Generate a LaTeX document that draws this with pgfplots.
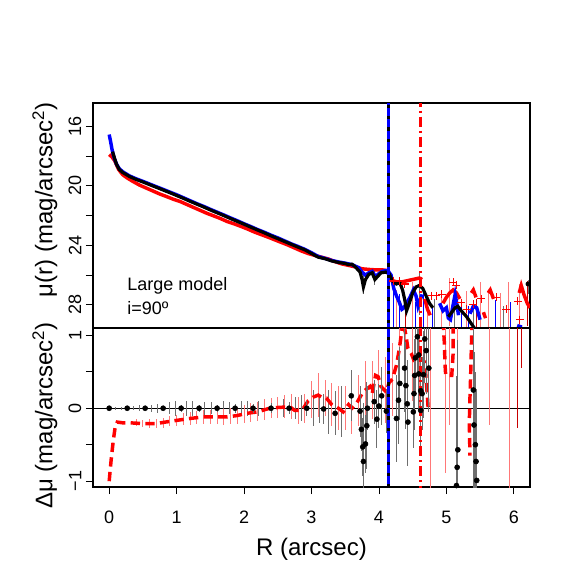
\documentclass[border=0pt]{standalone}
\usepackage{fontspec}
\setmainfont{Liberation Sans}
\usepackage{pgfplots}
\pgfplotsset{compat=1.18}
\definecolor{ebred}{RGB}{255,120,120}
\definecolor{ebgray}{RGB}{110,110,110}
\definecolor{dred}{RGB}{200,0,0}
\pgfplotsset{
  panel/.style={scale only axis, width=327.75pt, xmin=-0.24, xmax=6.24,
    axis line style={line width=1pt}, tick align=outside, major tick length=5.25pt,
    tick style={line width=0.6pt, black}, tick pos=left,
    /pgf/number format/assume math mode=true,
    tick label style={font=\fontsize{13.5}{16}\selectfont},
    label style={font=\fontsize{18}{21}\selectfont},
    yticklabel style={rotate=90, anchor=south},
    xticklabel style={yshift=-9pt},
    unbounded coords=jump},
  ebar/.style={only marks, mark=*, mark options={opacity=0, draw opacity=0, fill opacity=0}, forget plot,
    error bars/.cd, y dir=both, y explicit,
    error mark=none, error bar style={draw=#1, line width=0.7pt, solid, opacity=1}},
}
\begin{document}
\begin{tikzpicture}
\useasboundingbox (-69.75pt,-66.75pt) rectangle (362.25pt,365.25pt);

% ---------------- top panel: surface brightness profiles
\begin{axis}[panel, at={(0,119.25pt)}, anchor=south west, height=168.75pt,
  ymin=14.43, ymax=29.56, y dir=reverse, xtick=\empty,
  ytick={16,18,...,28}, yticklabels={16,,20,,24,,28},
  ylabel={μ(r) (mag/arcsec\textsuperscript{2})},
  ylabel style={at={(axis description cs:-0.11,0.57)}, anchor=center}]

% error bars in the outer part
\addplot[ebar=blue] coordinates {(4.21,28.0) +- (0,1.5) (4.3,28.5) +- (0,1.2) (4.54,28.8) +- (0,1.0)
  (4.66,28.4) +- (0,1.3) (4.8,29.0) +- (0,0.8) (5.22,28.6) +- (0,1.0) (5.33,29.0) +- (0,0.9)
  (5.73,28.7) +- (0,1.0) (5.95,28.8) +- (0,1.0)};
\addplot[ebar=ebred] coordinates {(4.26,28.5) +- (0,1.5) (4.5,28.0) +- (0,1.5) (4.72,28.7) +- (0,1.0)
  (4.92,28.5) +- (0,1.2) (5.05,27.8) +- (0,1.6) (5.3,28.3) +- (0,1.2) (5.5,28.0) +- (0,1.5)
  (5.62,28.3) +- (0,1.3) (5.8,28.4) +- (0,1.2) (5.92,28.0) +- (0,1.5) (6.08,28.0) +- (0,1.4)};
\addplot[ebar=dred] coordinates {(4.4,28.6) +- (0,1.0) (5.45,28.6) +- (0,1.0) (6.2,27.9) +- (0,1.5)};
\addplot[ebar=ebgray] coordinates {(3.77,26.6) +- (0,0.7) (3.93,26.2) +- (0,0.5) (4.6,27.2) +- (0,1.5)
  (4.82,28.6) +- (0,1.0) (5.12,28.7) +- (0,1.0) (5.4,29.0) +- (0,1.0) (5.84,28.9) +- (0,0.8)
  (6.21,26.8) +- (0,0.5)};

% red profile
\addplot[red, line width=2.6pt] coordinates {
(0.0,17.9) (0.04,18.05) (0.08,18.3) (0.11,18.6) (0.14,18.9) (0.2,19.25) (0.26,19.45)
(0.35,19.7) (0.45,19.95) (0.55,20.15) (0.65,20.35) (0.75,20.55) (0.85,20.72) (0.95,20.9)
(1.05,21.05) (1.15,21.25) (1.25,21.45) (1.35,21.65) (1.45,21.85) (1.55,22.02) (1.65,22.2)
(1.75,22.4) (1.85,22.55) (1.95,22.72) (2.05,22.9) (2.15,23.1) (2.25,23.27) (2.35,23.44)
(2.45,23.62) (2.55,23.8) (2.65,23.98) (2.75,24.18) (2.85,24.38) (2.95,24.55) (3.05,24.68)
(3.15,24.8) (3.25,24.92) (3.35,25.1) (3.45,25.25) (3.55,25.35) (3.65,25.45) (3.75,25.58)
(3.85,25.62) (3.95,25.65) (4.05,25.65) (4.14,25.7) (4.17,nan)
(4.22,26.4) (4.3,26.5) (4.4,26.4) (4.5,26.3) (4.6,26.2) (4.64,26.3) (4.66,nan)
(4.68,27.6) (4.72,28.3) (4.76,28.7) (4.8,nan)
(4.95,27.9) (5.0,27.5) (5.05,27.2) (5.1,27.0) (5.15,27.2) (5.2,27.6) (5.25,nan)
(5.37,27.2) (5.4,27.0) (5.44,27.5) (5.5,nan) (5.55,28.5) (5.58,28.9) (5.6,nan)
(5.62,27.2) (5.65,27.0) (5.7,27.6) (5.8,nan)
(6.08,27.2) (6.11,26.7) (6.15,27.3) (6.2,27.9) (6.24,28.2)};
\addplot[red, only marks, mark=+, mark size=3pt, line width=0.8pt] coordinates {
(4.21,26.4) (4.31,26.4) (4.38,26.6) (4.78,27.4) (4.85,27.4) (4.93,27.3) (5.1,26.5)
(5.15,26.7) (5.22,27.85) (5.3,28.3) (5.4,27.97) (5.52,27.6) (5.74,27.5) (5.89,28.3)
(6.06,27.75) (6.09,29.0)};

% blue profile
\addplot[blue, line width=2.6pt] coordinates {
(0.0,16.55) (0.02,17.0) (0.04,17.5) (0.06,17.9) (0.08,18.2) (0.11,18.55) (0.15,18.85)
(0.2,19.05) (0.3,19.33) (0.4,19.53) (0.5,19.7) (0.6,19.88) (0.7,20.06) (0.8,20.24)
(0.9,20.42) (1.0,20.6) (1.1,20.8) (1.2,21.0) (1.3,21.2) (1.4,21.38) (1.5,21.58) (1.6,21.77)
(1.7,21.96) (1.8,22.16) (1.9,22.35) (2.0,22.55) (2.1,22.74) (2.2,22.94) (2.3,23.12)
(2.4,23.32) (2.5,23.5) (2.6,23.7) (2.7,23.9) (2.8,24.08) (2.9,24.27) (3.0,24.5) (3.1,24.75)
(3.2,24.88) (3.3,25.02) (3.4,25.12) (3.5,25.2) (3.6,25.3) (3.7,25.5) (3.75,25.8) (3.8,26.0)
(3.85,25.85) (3.9,25.75) (3.95,26.1) (4.0,25.9) (4.05,25.75) (4.1,25.7) (4.14,25.75)
(4.18,26.0) (4.22,26.9) (4.26,27.4) (4.3,27.8) (4.34,28.3) (4.37,28.2) (4.41,27.9)
(4.46,27.5) (4.51,27.0) (4.55,27.4) (4.58,28.1) (4.61,27.7) (4.64,27.3) (4.7,nan)
(4.9,27.9) (4.95,28.4) (5.0,28.2) (5.03,28.9) (5.06,29.0) (5.1,28.0) (5.13,27.3)
(5.15,27.8) (5.18,28.7) (5.25,nan) (5.35,28.6) (5.4,28.1) (5.45,28.2) (5.5,29.0) (5.6,nan)
(6.05,29.4) (6.12,29.5)};

% black profile
\addplot[black, line width=2.4pt] coordinates {
(0.05,17.7) (0.08,18.15) (0.11,18.57) (0.15,18.9) (0.2,19.1) (0.3,19.37) (0.4,19.57)
(0.5,19.74) (0.6,19.92) (0.7,20.1) (0.8,20.28) (0.9,20.46) (1.0,20.65) (1.1,20.84)
(1.2,21.04) (1.3,21.23) (1.4,21.42) (1.5,21.62) (1.6,21.81) (1.7,22.0) (1.8,22.2)
(1.9,22.39) (2.0,22.58) (2.1,22.78) (2.2,22.97) (2.3,23.16) (2.4,23.36) (2.5,23.55)
(2.6,23.74) (2.7,23.93) (2.8,24.12) (2.9,24.3) (3.0,24.55) (3.1,24.8) (3.2,24.9)
(3.3,25.05) (3.4,25.15) (3.5,25.22) (3.55,25.3) (3.6,25.27) (3.65,25.45) (3.72,25.8)
(3.75,26.3) (3.77,26.8) (3.8,26.3) (3.85,25.95) (3.9,25.85) (3.94,26.3) (3.98,26.1)
(4.03,25.85) (4.1,25.8) (4.15,25.9) (4.2,26.4) (4.26,26.6) (4.31,26.5) (4.35,27.0)
(4.38,27.6) (4.41,28.4) (4.45,27.9) (4.5,27.2) (4.55,26.8) (4.6,26.7) (4.65,26.9)
(4.7,27.4) (4.75,27.9) (4.8,28.2) (4.9,nan) (5.03,28.8) (5.08,28.5) (5.13,28.2)
(5.17,28.1) (5.22,28.4) (5.3,28.8) (5.36,29.2) (5.42,29.6)};
\addplot[black, only marks, mark=*, mark size=1.6pt] coordinates {(6.21,26.6)};

% boundary radii
\addplot[black, line width=1.8pt] coordinates {(4.14,14) (4.14,30)};
\addplot[blue, line width=1.8pt, dash pattern=on 6pt off 2.5pt] coordinates {(4.14,14) (4.14,30)};
\addplot[red, line width=2pt, dash pattern=on 7.5pt off 3pt on 1.5pt off 3pt] coordinates {(4.62,14) (4.62,30)};

\node[anchor=west, font=\fontsize{13.5}{16}\selectfont] at (axis cs:0.2,26.75) {Large model};
\node[anchor=west, font=\fontsize{13.5}{16}\selectfont] at (axis cs:0.2,28.2) {i=90º};
\end{axis}

% ---------------- bottom panel: residuals
\begin{axis}[panel, at={(0,0)}, anchor=south west, height=119.25pt,
  ymin=-1.08, ymax=1.1, ytick={-1,-0.5,0,0.5,1}, yticklabels={−1,,0,,1},
  xtick={0,...,6}, xlabel={R (arcsec)},
  xlabel style={at={(axis description cs:0.5,-0.39)}, anchor=center},
  ylabel={Δμ (mag/arcsec\textsuperscript{2})},
  ylabel style={at={(axis description cs:-0.11,0.45)}, anchor=center}]

\addplot[black, line width=0.6pt] coordinates {(-0.3,0) (6.3,0)};

% error bars of the black residuals, inner part
\addplot[ebar=ebgray] coordinates {(0.09,0) +- (0,0.02) (0.18,0) +- (0,0.02) (0.36,0) +- (0,0.03)
  (0.45,0) +- (0,0.04) (0.62,0) +- (0,0.05) (0.71,0) +- (0,0.06) (0.89,0) +- (0,0.08)
  (0.98,0) +- (0,0.1) (1.15,0) +- (0,0.1) (1.24,0) +- (0,0.1) (1.42,0) +- (0,0.09)
  (1.51,0) +- (0,0.08) (1.69,0) +- (0,0.1) (1.78,0) +- (0,0.08) (1.96,0) +- (0,0.1)
  (2.05,0) +- (0,0.1) (2.22,0) +- (0,0.1) (2.31,0) +- (0,0.1) (2.49,0) +- (0,0.1)
  (2.58,0) +- (0,0.12) (2.76,0) +- (0,0.15) (2.85,0) +- (0,0.18) (3.03,0) +- (0,0.25)
  (3.12,0) +- (0,0.2) (3.25,-0.05) +- (0,0.3) (3.45,-0.05) +- (0,0.35) (3.5,0) +- (0,0.25)};

% error bars of the red residuals
\addplot[ebar=ebred] coordinates {(0.4,-0.2) +- (0,0.05) (0.5,-0.21) +- (0,0.05)
  (0.6,-0.21) +- (0,0.06) (0.7,-0.21) +- (0,0.06) (0.8,-0.2) +- (0,0.07) (0.9,-0.18) +- (0,0.07)
  (1.0,-0.17) +- (0,0.08) (1.1,-0.15) +- (0,0.08) (1.2,-0.14) +- (0,0.09) (1.3,-0.13) +- (0,0.09)
  (1.4,-0.12) +- (0,0.1) (1.5,-0.12) +- (0,0.1) (1.6,-0.12) +- (0,0.1) (1.7,-0.12) +- (0,0.11)
  (1.8,-0.11) +- (0,0.11) (1.9,-0.1) +- (0,0.12) (2.0,-0.08) +- (0,0.12) (2.1,-0.06) +- (0,0.13)
  (2.2,-0.05) +- (0,0.13) (2.3,-0.02) +- (0,0.14) (2.4,0.0) +- (0,0.14) (2.5,0.01) +- (0,0.15)
  (2.6,0.02) +- (0,0.16) (2.7,0.02) +- (0,0.17) (2.8,-0.03) +- (0,0.18) (2.9,0.0) +- (0,0.2)
  (3.0,0.12) +- (0,0.25) (3.1,0.18) +- (0,0.3) (3.2,0.14) +- (0,0.25) (3.3,0.05) +- (0,0.3)
  (3.4,0.0) +- (0,0.3) (3.5,0.0) +- (0,0.3) (3.6,0.0) +- (0,0.35) (3.7,0.1) +- (0,0.35)
  (3.8,0.25) +- (0,0.4) (3.9,0.25) +- (0,0.4) (4.0,0.4) +- (0,0.4) (4.1,0.25) +- (0,0.45)
  (4.2,0.4) +- (0,0.5) (4.3,0.75) +- (0,0.6) (4.4,0.9) +- (0,0.6) (4.5,0.7) +- (0,0.6)
  (4.6,0.68) +- (0,0.7) (4.76,0) +- (0,1.2) (4.98,0.61) +- (0,1.5) (5.05,0.9) +- (0,1.13)
  (5.16,1.0) +- (0,1.14) (5.64,0.9) +- (0,1.13) (5.94,0) +- (0,1.2)};
\addplot[ebar=dred] coordinates {(5.4,0.3) +- (0,1.5) (6.06,0.9) +- (0,1.17)
  (6.11,1.2) +- (0,0.65) (6.24,0.5) +- (0,1.35)};

% red residuals
\addplot[red, line width=2.6pt, dash pattern=on 7pt off 4pt] coordinates {
(0.0,-1.0) (0.03,-0.7) (0.06,-0.45) (0.09,-0.25) (0.12,-0.19) (0.2,-0.2) (0.3,-0.2)
(0.5,-0.21) (0.7,-0.21) (0.9,-0.18) (1.05,-0.16) (1.2,-0.14) (1.39,-0.12) (1.6,-0.12)
(1.74,-0.12) (1.9,-0.1) (2.04,-0.07) (2.2,-0.05) (2.38,0) (2.5,0.01) (2.68,0.02)
(2.75,-0.03) (2.83,-0.03) (2.88,0.0) (2.95,0.1) (3.02,0.15) (3.1,0.18) (3.15,0.15)
(3.22,0.14) (3.3,0.05) (3.4,0.0) (3.47,-0.05) (3.55,0.05) (3.6,0.0) (3.67,0.07)
(3.75,0.2) (3.8,0.25) (3.87,0.3) (3.9,0.2) (3.95,0.45) (3.99,0.43) (4.03,0.3) (4.08,0.25)
(4.11,0.22) (4.15,0.35) (4.2,0.4) (4.26,0.59) (4.3,0.8) (4.36,1.2) (4.4,1.0) (4.43,0.82)
(4.48,0.75) (4.53,0.63) (4.58,0.68) (4.63,0.68) (4.68,0.63) (4.7,0.4) (4.73,0.0) (4.8,nan)
(4.95,1.2) (4.97,0.9) (4.98,0.6) (4.99,0.45) (5.02,0.45) (5.08,0.45) (5.1,0.75) (5.1,1.2)
(5.2,nan) (5.38,1.2) (5.37,0.8) (5.36,0.45) (5.35,0.15) (5.34,-0.2) (5.35,-0.65)};

% black residuals
\addplot[black, only marks, mark=*, mark size=1.9pt,
  error bars/.cd, y dir=both, y explicit, error mark=none,
  error bar style={draw=ebgray, line width=0.7pt}] coordinates {
(0,0) +- (0,0.02) (0.267,0) +- (0,0.02) (0.533,0) +- (0,0.03) (0.8,0) +- (0,0.03)
(1.067,0) +- (0,0.05) (1.333,0) +- (0,0.05) (1.6,0) +- (0,0.05) (1.867,0) +- (0,0.06)
(2.133,0) +- (0,0.06) (2.4,0) +- (0,0.07) (2.667,0) +- (0,0.08) (2.93,0) +- (0,0.1)
(3.18,-0.01) +- (0,0.2) (3.35,-0.07) +- (0,0.3) (3.59,0.17) +- (0,0.35) (3.72,-0.04) +- (0,0.35)
(3.74,-0.29) +- (0,0.3) (3.77,-0.73) +- (0,0.8) (3.76,-0.53) +- (0,0.4) (3.8,-0.49) +- (0,0.4)
(3.82,-0.24) +- (0,0.6) (3.83,0) +- (0,0.3) (3.93,0.09) +- (0,0.3) (3.97,-0.15) +- (0,0.4)
(4.0,0.03) +- (0,0.3) (4.04,0.17) +- (0,0.4) (4.11,-0.04) +- (0,0.3) (4.26,-0.14) +- (0,0.6)
(4.29,0.11) +- (0,0.6) (4.31,0.34) +- (0,0.5) (4.38,0.55) +- (0,0.6) (4.4,0.31) +- (0,0.6)
(4.42,0.06) +- (0,0.6) (4.43,-0.19) +- (0,0.6) (4.51,-0.05) +- (0,0.5) (4.52,0.2) +- (0,0.5)
(4.53,0.45) +- (0,0.5) (4.54,0.69) +- (0,0.5) (4.57,0.98) +- (0,0.5) (4.59,0.47) +- (0,0.5)
(4.59,0.73) +- (0,0.5) (4.62,-0.03) +- (0,0.5) (4.62,0.24) +- (0,0.5) (4.64,0.2) +- (0,0.5)
(4.66,0.46) +- (0,0.6) (4.68,0.95) +- (0,0.6) (4.7,0.79) +- (0,0.6) (4.74,0.55) +- (0,0.6)
(5.16,-0.81) +- (0,1.5) (5.17,-0.57) +- (0,1.5) (5.15,-1.06) +- (0,1.5) (5.4,0.25) +- (0,1.5)
(5.41,-0.23) +- (0,1.0) (5.43,-0.5) +- (0,1.0) (5.44,-0.73) +- (0,1.0) (5.45,-0.99) +- (0,1.0)};

% boundary radii
\addplot[black, line width=1.8pt] coordinates {(4.14,-1.2) (4.14,1.2)};
\addplot[blue, line width=1.8pt, dash pattern=on 6pt off 2.5pt] coordinates {(4.14,-1.2) (4.14,1.2)};
\addplot[red, line width=2pt, dash pattern=on 7.5pt off 3pt on 1.5pt off 3pt] coordinates {(4.62,-1.2) (4.62,1.2)};
\end{axis}
\end{tikzpicture}
\end{document}
